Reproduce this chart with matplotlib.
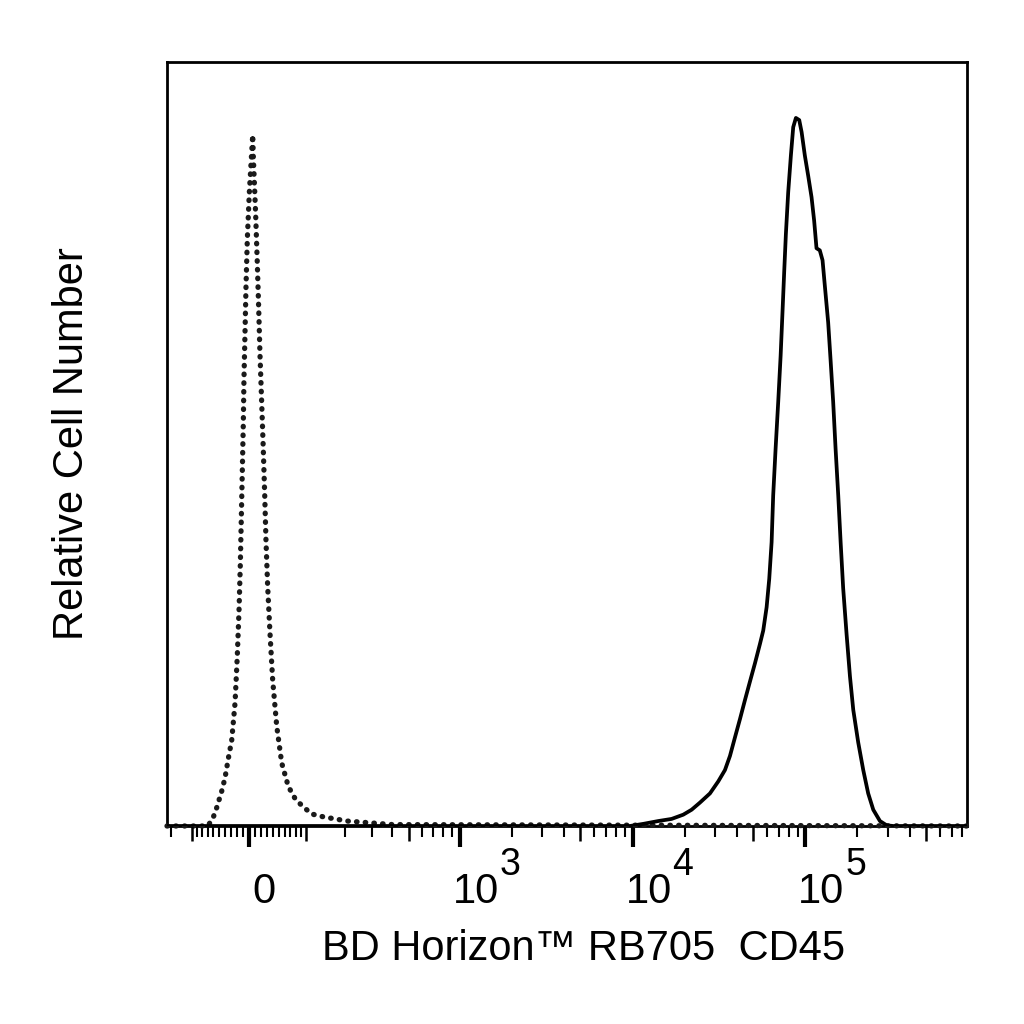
import numpy as np
import matplotlib
matplotlib.use("Agg")
import matplotlib.pyplot as plt
from matplotlib.ticker import FixedLocator, NullFormatter

plt.rcParams["font.family"] = ["Liberation Sans", "DejaVu Sans"]

# ---- data (fluorescence, relative cell number) ----
# isotype control, dotted
ctrl_x = [-160, -70, -60.8, -53.6, -45.0, -39.3, -33.8, -28.1, -22.6, -19.0,
          -16.1, -14.0, -12.4, -10.8, -9.2, -8.1, -6.4, -4.8, -2.7, 0.5, 6.0,
          6.9, 10.8, 13.4, 15.7, 17.8, 20.5, 23.1, 25.5, 27.6, 30.4, 34.3, 38.8,
          45.7, 54.4, 66.2, 78.8, 92.1, 113, 140, 171, 207, 400, 860000]
ctrl_y = [0, 0, 1.0, 2.6, 4.9, 6.8, 9.5, 12.1, 17.4, 23.9,
          30.5, 37.0, 43.5, 50.1, 56.7, 63.2, 69.8, 76.3, 82.9, 89.4, 97.6,
          94.7, 86.2, 79.5, 73.0, 66.5, 59.9, 53.4, 46.8, 40.3, 33.8, 27.2, 20.6,
          14.1, 8.9, 5.6, 3.9, 2.9, 1.7, 1.3, 1.0, 0.7, 0.2, 0]

# CD45 stained, solid
cd45_x = [-160, 9660, 11540, 14090, 16830, 19650, 21970, 24530, 28040, 31320,
          34240, 36610, 39110, 41820, 44710, 47770, 51090, 54560, 57010, 59640,
          61760, 63740, 65100, 67220, 69600, 71870, 73810, 75380, 77080, 79500,
          82400, 85000, 88090, 92080, 95050, 99220, 103800, 108500, 112300, 115900,
          121100, 125600, 129500, 135400, 139800, 144700, 149400, 154800, 159800, 165300,
          173100, 181000, 189100, 202000, 216000, 230700, 246800, 269800, 294900, 322000,
          860000]
cd45_y = [0, 0, 0.3, 0.7, 1.0, 1.6, 2.3, 3.3, 4.6, 6.3,
          7.9, 9.9, 12.5, 15.1, 17.8, 20.4, 23.0, 25.7, 27.6, 30.9,
          34.9, 40.1, 46.7, 53.3, 59.9, 66.4, 73.0, 78.3, 83.6, 89.5,
          94.7, 98.7, 100.0, 99.7, 98.0, 94.7, 91.8, 88.8, 85.5, 81.6,
          81.3, 79.9, 76.3, 71.1, 65.8, 59.9, 53.3, 46.7, 40.1, 33.6,
          27.0, 21.1, 16.4, 11.8, 7.9, 4.6, 2.3, 0.7, 0.1, 0,
          0]

major_ticks = [0, 1e3, 1e4, 1e5]
major_base = ["0", "10", "10", "10"]
major_exp = ["", "3", "4", "5"]
mid_ticks = [-100, 100, 500, 5e3, 5e4, 5e5]
minor_ticks = ([-v for v in range(10, 100, 10)] + [-150] +
               list(range(10, 100, 10)) +
               [m * 10**e for e in (2, 3, 4, 5) for m in (2, 3, 4, 6, 7, 8, 9)])

x_lim = (-160, 8.6e5)
y_lim = (0, 107.9)

# ---- biexponential-like display (arcsinh) ----
COF = 121.0
def fwd(x):
    return np.arcsinh(np.asarray(x, dtype=float) / COF)

def inv(y):
    return COF * np.sinh(np.asarray(y, dtype=float))

fig = plt.figure(figsize=(10.24, 10.24), dpi=100)
ax = fig.add_axes([167 / 1024, 1 - 826 / 1024, 800 / 1024, 764 / 1024])
ax.set_xscale("function", functions=(fwd, inv))

ax.plot(ctrl_x, ctrl_y, color="#1a1a1a", lw=3.8, linestyle=(0, (0.1, 1.55)),
        dash_capstyle="round", zorder=3, clip_on=False)
ax.plot(cd45_x, cd45_y, color="black", lw=2.7, zorder=4,
        solid_joinstyle="round", solid_capstyle="round")

ax.set_xlim(*x_lim)
ax.set_ylim(*y_lim)
ax.set_yticks([])

ax.xaxis.set_major_locator(FixedLocator(major_ticks))
ax.xaxis.set_major_formatter(NullFormatter())
ax.xaxis.set_minor_locator(FixedLocator(minor_ticks))
ax.xaxis.set_minor_formatter(NullFormatter())
ax.tick_params(axis="x", which="major", length=15, width=3.0, direction="out", color="black")
ax.tick_params(axis="x", which="minor", length=8, width=1.5, direction="out", color="black")

# medium ticks at 5x decades on a twin axis
ax2 = ax.twiny()
ax2.set_xscale("function", functions=(fwd, inv))
ax2.set_xlim(*x_lim)
ax2.xaxis.set_ticks_position("bottom")
ax2.xaxis.set_major_locator(FixedLocator(mid_ticks))
ax2.xaxis.set_major_formatter(NullFormatter())
ax2.xaxis.set_minor_locator(FixedLocator([]))
ax2.tick_params(axis="x", which="major", length=11, width=1.8, direction="out")
for sp in ax2.spines.values():
    sp.set_visible(False)

for sp in ax.spines.values():
    sp.set_linewidth(2.0)

# decade labels, shifted right like the original export
for val, base, exp in zip(major_ticks, major_base, major_exp):
    ax.annotate(base, xy=(val, 0), xycoords=("data", "axes fraction"),
                xytext=(15 if exp == "" else 16, -66), textcoords="offset pixels",
                ha="center", va="center", fontsize=30, annotation_clip=False)
    if exp:
        ax.annotate(exp, xy=(val, 0), xycoords=("data", "axes fraction"),
                    xytext=(40, -39), textcoords="offset pixels",
                    ha="left", va="center", fontsize=27, annotation_clip=False)

ax.set_xlabel("BD Horizon™ RB705  CD45", fontsize=30, va="center")
ax.xaxis.set_label_coords(0.5206, -0.161)
ax.set_ylabel("Relative Cell Number", fontsize=30, va="center")
ax.yaxis.set_label_coords(-0.119, 0.5)

fig.savefig("out.png", dpi=100, facecolor="white")
